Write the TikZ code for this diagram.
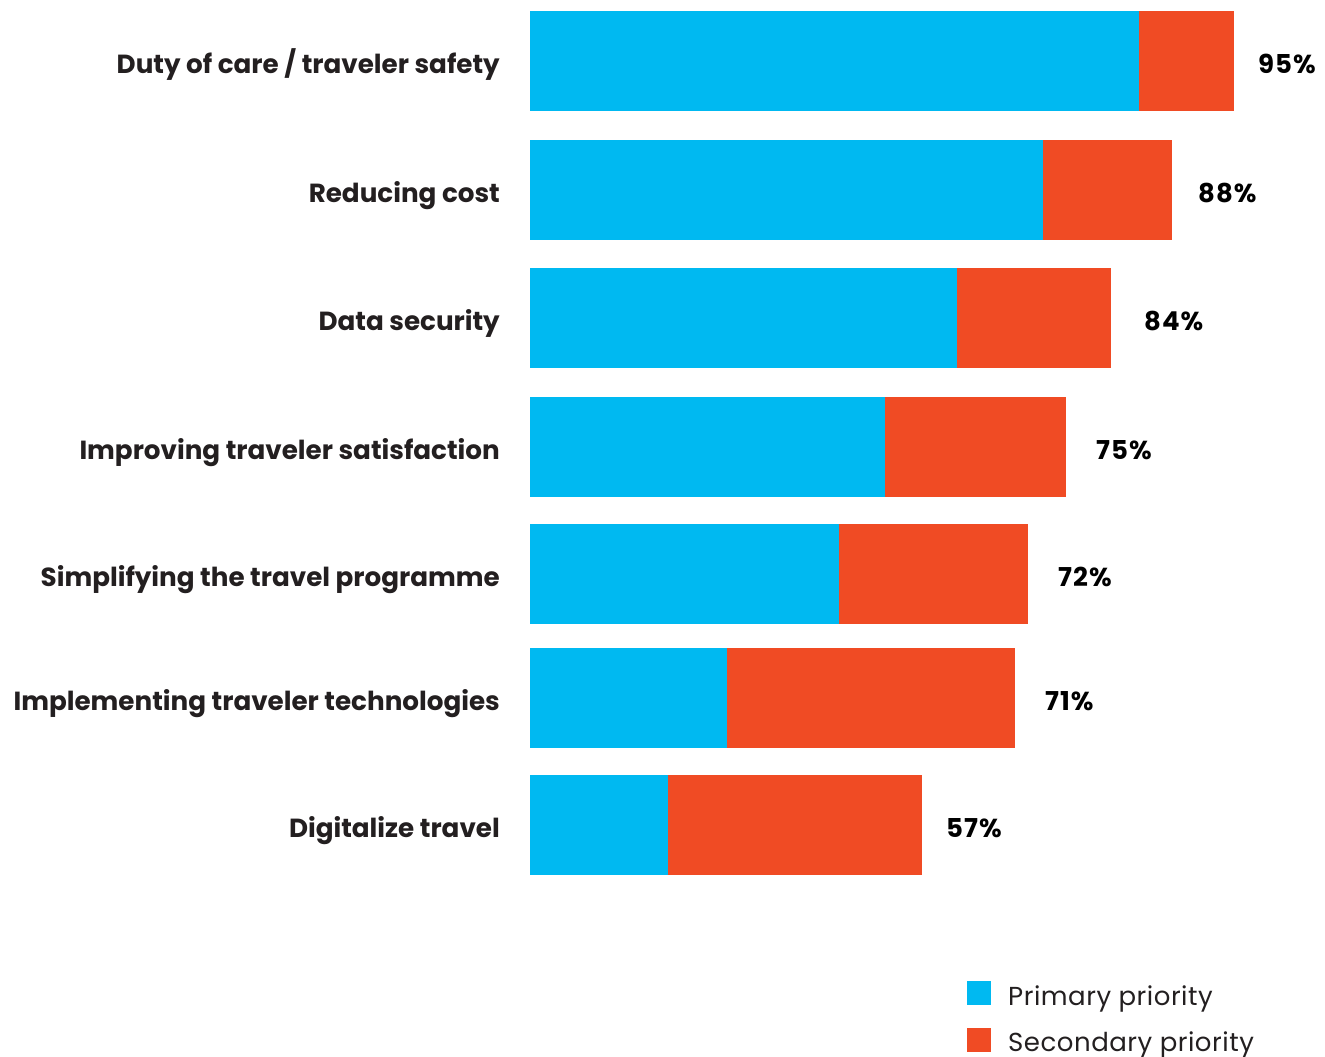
\documentclass[tikz,border=0pt]{standalone}
\usepackage{fontspec}
\setmainfont{Poppins}
\definecolor{primblue}{HTML}{00B9F1}
\definecolor{secred}{HTML}{F04B24}
\definecolor{ink}{HTML}{231F20}
\begin{document}
\begin{tikzpicture}[x=1pt,y=-1pt,
  lab/.style={anchor=base east,text=ink,inner sep=0pt,font=\fontsize{26.2}{30}\selectfont\bfseries},
  pct/.style={anchor=base west,text=black,inner sep=0pt,font=\fontsize{26}{30}\selectfont\bfseries\addfontfeatures{LetterSpace=4}},
  key/.style={anchor=base west,text=ink,inner sep=0pt,font=\fontsize{26}{30}\selectfont\addfontfeatures{LetterSpace=2}}]
\useasboundingbox (0,0) rectangle (1325,1057);
% bars: top / end of primary / end of secondary / x of value / value / label
\foreach \t/\b/\r/\v/\p/\n/\txt in {
  11/1139/1234/1258/95/duty/{Duty of care / traveler safety},
  140/1043/1172/1198/88/cost/{Reducing cost},
  268/957/1111/1144/84/data/{Data security},
  397/885/1066/1096/75/satis/{Improving traveler satisfaction},
  524/839/1028/1058/72/simpl/{Simplifying the travel programme},
  648/727/1015/1045/71/tech/{Implementing traveler technologies},
  775/668/922/946/57/digit/{Digitalize travel}}{
  \fill[primblue] (530,\t) rectangle (\b,\t+99.5);
  \fill[secred] (\b,\t) rectangle (\r,\t+99.5);
  \node[lab] (lab-\n) at (500,\t+62.5) {\txt};
  \node[pct] (pct-\n) at (\v,\t+62.5) {\p\%};
}
% legend
\fill[primblue] (967,981) rectangle (991,1005);
\fill[secred] (967,1028) rectangle (991,1052);
\node[key] (key-prim) at (1008,1005) {Primary priority};
\node[key] (key-sec) at (1008,1051) {Secondary priority};
\end{tikzpicture}
\end{document}
